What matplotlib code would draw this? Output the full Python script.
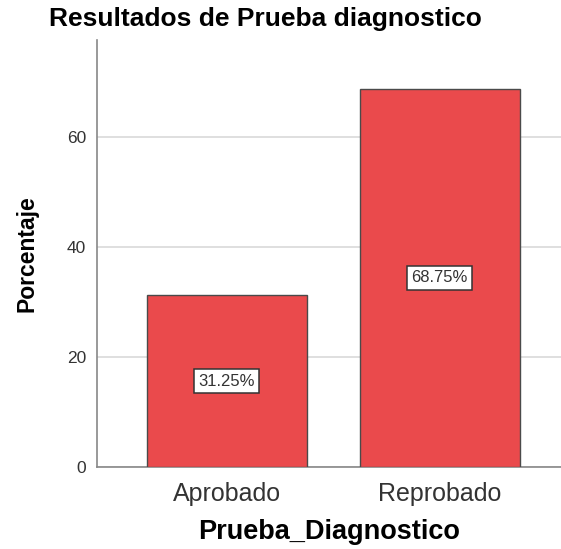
import matplotlib
matplotlib.use("Agg")
import matplotlib.pyplot as plt

categories = ["Aprobado", "Reprobado"]
percentages = [31.25, 68.75]
value_labels = ["31.25%", "68.75%"]
yticks = [0, 20, 40, 60]

plt.rcParams['font.family'] = ['Liberation Sans', 'DejaVu Sans']

fig = plt.figure(figsize=(5.61, 5.49), dpi=100)
ax = fig.add_axes([97/561, 1 - 467/549, 464/561, 427/549])

x = list(range(len(categories)))
ax.bar(x, percentages, width=0.751, color='#EA4A4C', edgecolor='#4a4a4a', linewidth=1.0, zorder=3)
for xi, v, lab in zip(x, percentages, value_labels):
    ax.text(xi, v / 2, lab, ha='center', va='center', fontsize=12, color='#333333', zorder=4,
            bbox=dict(boxstyle='square,pad=0.25', facecolor='white', edgecolor='#333333', linewidth=1.1))

ax.set_xlim(-0.61, 1.57)
ax.set_ylim(0, 77.6)
ax.set_yticks(yticks)
ax.set_xticks(x)
ax.set_xticklabels(categories, fontsize=18, color='#333333')
ax.tick_params(axis='y', length=0, labelsize=12.5, labelcolor='#333333', pad=8)
ax.tick_params(axis='x', length=0, pad=11)
ax.yaxis.grid(True, color='#d9d9d9', linewidth=1.2, zorder=0)
ax.set_axisbelow(True)
for s in ['top', 'right']:
    ax.spines[s].set_visible(False)
for s in ['left', 'bottom']:
    ax.spines[s].set_color('#888888')
    ax.spines[s].set_linewidth(1.2)

ax.set_ylabel("Porcentaje", fontsize=16.5, fontweight='bold', labelpad=20)
ax.set_xlabel("Prueba_Diagnostico", fontsize=19.5, fontweight='bold', labelpad=9)
fig.text(265/561, 1 - 19/549, "Resultados de Prueba diagnostico", ha='center', va='center', fontsize=19, fontweight='bold')

fig.savefig("out.png", dpi=100)
